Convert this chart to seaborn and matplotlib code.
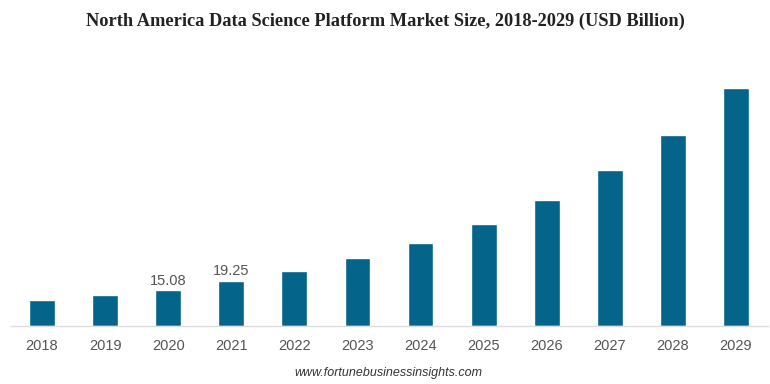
import pandas as pd
import matplotlib.pyplot as plt
import seaborn as sns

# Market size values (USD Billion)
years = ["2018", "2019", "2020", "2021", "2022", "2023",
         "2024", "2025", "2026", "2027", "2028", "2029"]
values = [10.9, 13.1, 15.08, 19.25, 23.4, 28.7,
          35.2, 43.2, 53.4, 66.0, 80.8, 100.7]
labelled = {"2020": "15.08", "2021": "19.25"}

df = pd.DataFrame({"Year": years, "Size": values})

sns.set_theme(style="white")
plt.rcParams["font.family"] = ["Liberation Sans", "DejaVu Sans"]

fig = plt.figure(figsize=(7.7, 3.84), dpi=100)
ax = fig.add_axes([10.5 / 770, 58 / 384, 757 / 770, 266 / 384])

sns.barplot(data=df, x="Year", y="Size", color="#04648A", width=0.41,
            saturation=1, ax=ax)

ax.set_xlim(-0.5, 11.5)
ax.set_ylim(0, 112.7)

# value labels only for 2020 and 2021
for i, yr in enumerate(years):
    if yr in labelled:
        ax.text(i, values[i] + 1.2, labelled[yr], ha="center", va="bottom",
                fontsize=10.5, color="#555555")

for s in ["top", "right", "left"]:
    ax.spines[s].set_visible(False)
ax.spines["bottom"].set_color("#dddddd")
ax.spines["bottom"].set_linewidth(1)
ax.set_yticks([])
ax.set_xlabel("")
ax.set_ylabel("")
ax.tick_params(axis="x", length=0, labelsize=10.5, labelcolor="#555555", pad=9)

fig.text(0.5, 0.945, "North America Data Science Platform Market Size, 2018-2029 (USD Billion)",
         ha="center", va="center", fontsize=13.2, fontweight="bold",
         family="Liberation Serif", color="#222222")
fig.text(0.504, 0.028, "www.fortunebusinessinsights.com", ha="center", va="center",
         fontsize=9, style="italic", color="#333333")

fig.savefig("out.png", dpi=100)
